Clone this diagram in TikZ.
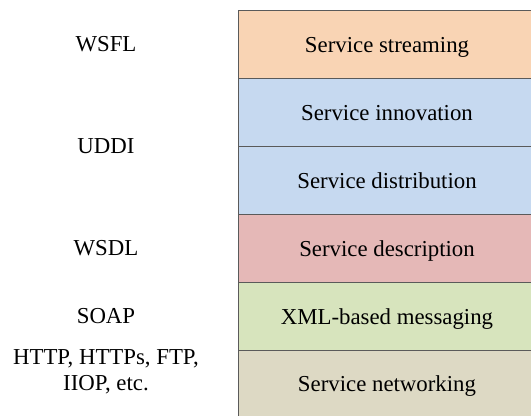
\documentclass[tikz,border=0pt]{standalone}
\usepackage{fontspec}
\setmainfont{Liberation Serif}
\definecolor{cOrange}{HTML}{F9D4B4}
\definecolor{cBlue}{HTML}{C6D9F0}
\definecolor{cRed}{HTML}{E5B8B7}
\definecolor{cGreen}{HTML}{D7E4BD}
\definecolor{cTan}{HTML}{DDD9C4}
\definecolor{cLine}{HTML}{5A5A5A}
\newcommand{\bigtext}{\fontsize{22.9}{25.6}\selectfont}
\tikzset{
  layer/.style={draw=cLine, line width=1bp, minimum width=297bp, anchor=north west,
    inner sep=0pt, font=\bigtext, text height=15.1pt, text depth=0pt},
  proto/.style={inner sep=0pt, align=center, font=\bigtext,
    text height=15.1pt, text depth=0pt}
}
\begin{document}
\begin{tikzpicture}[x=1bp,y=-1bp]
\useasboundingbox (0,0) rectangle (531,415);
\node[layer, fill=cOrange, minimum height=68bp] (l1) at (238,10) {Service streaming};
\node[layer, fill=cBlue, minimum height=68bp] (l2) at (238,78) {Service innovation};
\node[layer, fill=cBlue, minimum height=68bp] (l3) at (238,146) {Service distribution};
\node[layer, fill=cRed, minimum height=68bp] (l4) at (238,214) {Service description};
\node[layer, fill=cGreen, minimum height=68bp] (l5) at (238,282) {XML-based messaging};
\node[layer, fill=cTan, minimum height=66bp] (l6) at (238,350) {Service networking};
\node[proto] (p1) at (106,44) {WSFL};
\node[proto] (p2) at (106,146) {UDDI};
\node[proto] (p3) at (106,248) {WSDL};
\node[proto] (p4) at (106,316) {SOAP};
\node[proto] (p5) at (106,382.5) {HTTP, HTTPs, FTP,\\IIOP, etc.};
\end{tikzpicture}
\end{document}
